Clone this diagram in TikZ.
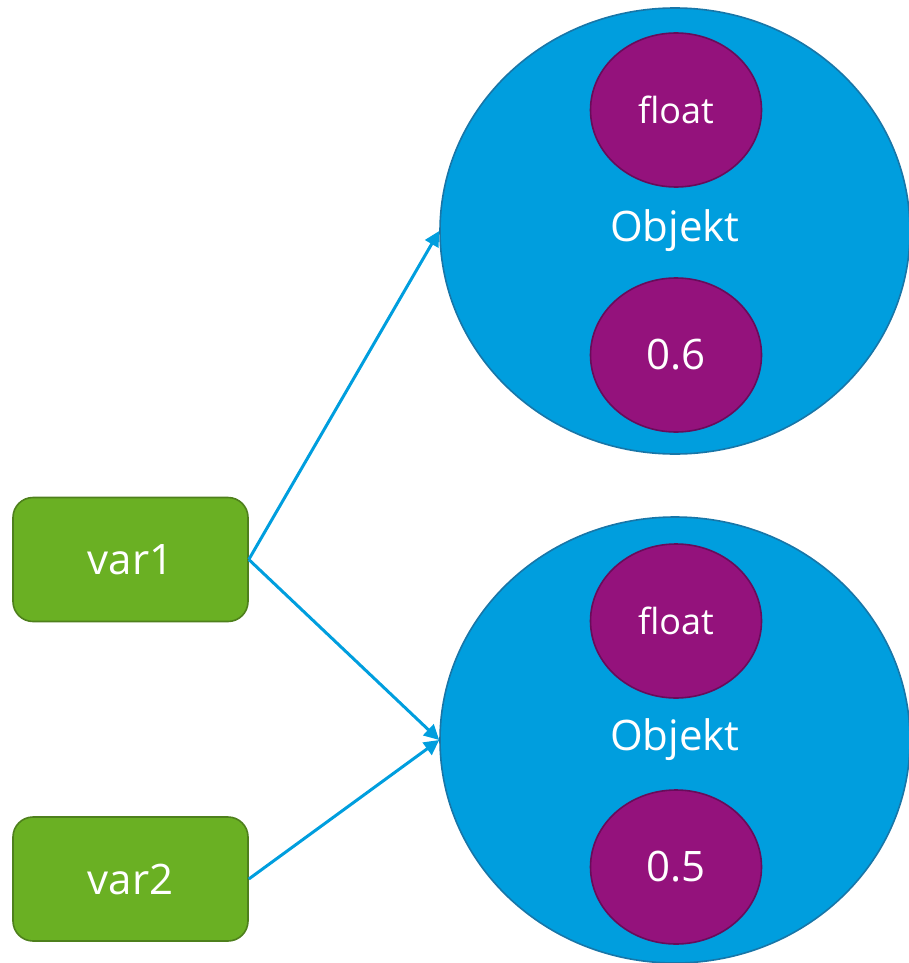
\documentclass[tikz,border=0pt]{standalone}
\usepackage{fontspec}
\setmainfont{Open Sans}
\usetikzlibrary{shapes.geometric,arrows.meta}

\definecolor{objblue}{RGB}{0,158,222}
\definecolor{objline}{RGB}{24,118,168}
\definecolor{valpurple}{RGB}{148,18,124}
\definecolor{valline}{RGB}{104,12,90}
\definecolor{vargreen}{RGB}{106,176,35}
\definecolor{varline}{RGB}{78,128,28}

\tikzset{
    objekt/.style={ellipse, fill=objblue, draw=objline, line width=1.6pt,
        minimum width=470pt, minimum height=446pt, inner sep=0pt,
        text=white, font=\fontsize{42}{50}\selectfont},
    wert/.style={ellipse, fill=valpurple, draw=valline, line width=1.6pt,
        minimum width=171pt, minimum height=154pt, inner sep=0pt,
        text=white, font=\fontsize{42}{50}\selectfont},
    varbox/.style={rectangle, rounded corners=20pt, fill=vargreen, draw=varline,
        line width=1.6pt, minimum width=235pt, minimum height=124pt, inner sep=0pt,
        text=white, font=\fontsize{42}{50}\selectfont},
    zeiger/.style={-{Triangle[length=15pt,width=15pt]}, draw=objblue, line width=3pt}
}

\begin{document}
\begin{tikzpicture}[x=1pt,y=-1pt]
        \useasboundingbox (0,0) rectangle (908,963);

        % Objekte
        \node[objekt] (obj1) at (675,231) {Objekt};
        \node[objekt] (obj2) at (675,740) {Objekt};

        % Typ und Wert
        \node[wert, font=\fontsize{36}{44}\selectfont] (typ1) at (676,110) {float};
        \node[wert] (val1) at (676,355) {0.6};
        \node[wert, font=\fontsize{36}{44}\selectfont] (typ2) at (676,621) {float};
        \node[wert] (val2) at (676,867) {0.5};

        % Variablen
        \node[varbox] (var1) at (130.5,559.5) {var1};
        \node[varbox] (var2) at (130.5,879) {var2};

        % Referenzen
        \draw[zeiger] (var1.east) -- (obj1.west);
        \draw[zeiger] (var1.east) -- (obj2.west);
        \draw[zeiger] (var2.east) -- (obj2.west);
    \end{tikzpicture}
\end{document}
